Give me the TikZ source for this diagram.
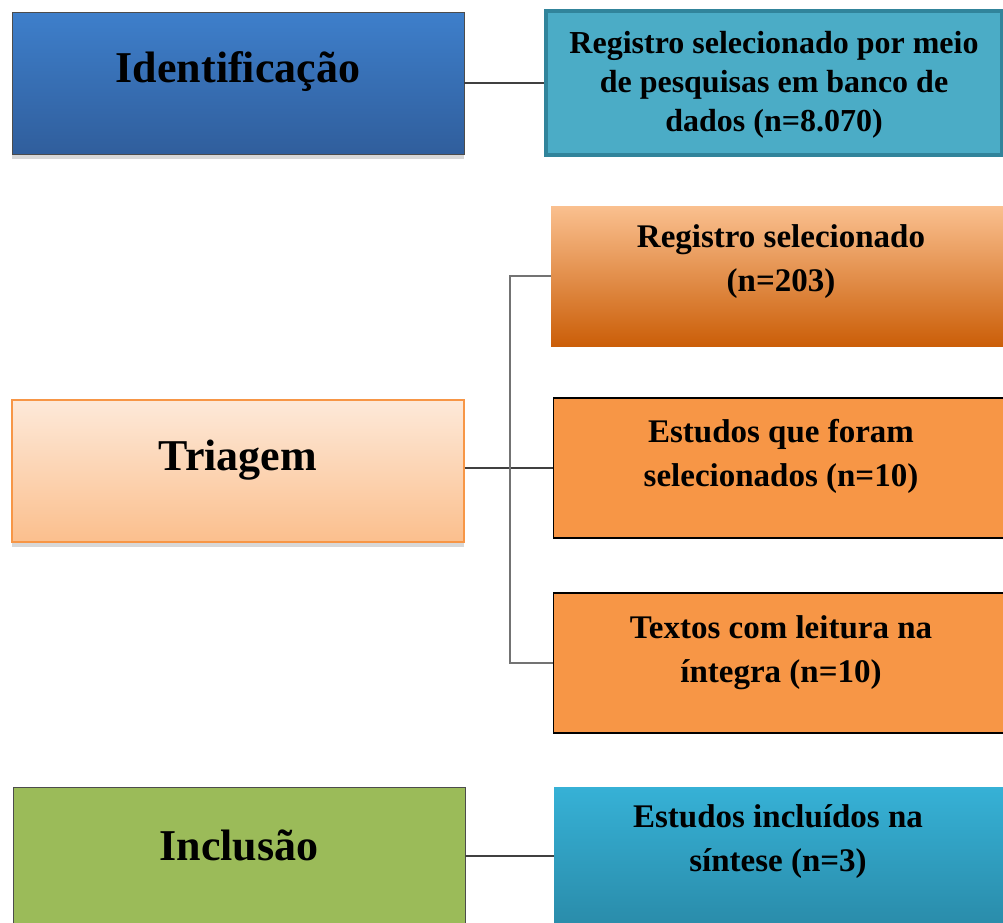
\documentclass[tikz,border=0pt]{standalone}
\usepackage{fontspec}
\setmainfont{Liberation Serif}
\usepackage{tikz}
\usetikzlibrary{positioning,shadows}

\definecolor{azulTopo}{HTML}{3E7FCB}
\definecolor{azulBase}{HTML}{305E9C}
\definecolor{cianoFundo}{HTML}{4BACC6}
\definecolor{cianoBorda}{HTML}{31849B}
\definecolor{pessegoTopo}{HTML}{FDE9D9}
\definecolor{pessegoBase}{HTML}{FBBF8D}
\definecolor{laranja}{HTML}{F79646}
\definecolor{laranjaTopo}{HTML}{FAC08F}
\definecolor{laranjaBase}{HTML}{CB5E08}
\definecolor{verde}{HTML}{9BBB59}
\definecolor{azulClaroTopo}{HTML}{36B1D6}
\definecolor{azulClaroBase}{HTML}{2886A3}

\begin{document}
\begin{tikzpicture}[x=1pt,y=-1pt,
    etapa/.style={rectangle, minimum width=452pt, minimum height=142pt, inner sep=0pt},
    caixa/.style={rectangle, minimum width=455pt, minimum height=140pt, inner sep=0pt},
    titulo/.style={font=\fontsize{44}{50}\selectfont\bfseries},
    texto/.style={font=\fontsize{33}{44}\selectfont\bfseries, align=center},
    ligacao/.style={draw=black!75, line width=1.5pt}]
    \clip (0,0) rectangle (1003,922);
    \fill[white] (0,0) rectangle (1003,922);

    % Identificacao
    \node[etapa, top color=azulTopo, bottom color=azulBase, draw=black!70, line width=0.8pt,
          drop shadow={opacity=0.3, shadow xshift=0pt, shadow yshift=-5pt}] (ident) at (238,83) {};
    \node[titulo] (identTxt) at ([yshift=11pt]ident.center) {Identificação};
    \node[caixa, minimum width=456pt, minimum height=144pt, fill=cianoFundo, draw=cianoBorda, line width=3.5pt] (registro) at (774,83) {};
    \node[texto, font=\fontsize{32}{39}\selectfont\bfseries] (registroTxt) at ([yshift=-2pt]registro.center) {Registro selecionado por meio\\de pesquisas em banco de\\dados (n=8.070)};
    \draw[ligacao] (ident.east) -- (registro.west);

    % Triagem
    \node[etapa, top color=pessegoTopo, bottom color=pessegoBase, draw=laranja, line width=1.2pt,
          drop shadow={opacity=0.3, shadow xshift=0pt, shadow yshift=-5pt}] (triagem) at (238,471) {};
    \node[titulo] (triagemTxt) at ([yshift=11pt]triagem.center) {Triagem};
    \node[caixa, minimum width=460pt, top color=laranjaTopo, bottom color=laranjaBase] (selec) at (781,276) {};
    \node[texto] (selecTxt) at ([yshift=14pt]selec.center) {Registro selecionado\\(n=203)};
    \node[caixa, fill=laranja, draw=black, line width=1.5pt] (estudos) at (781,468) {};
    \node[texto] (estudosTxt) at ([yshift=12pt]estudos.center) {Estudos que foram\\selecionados (n=10)};
    \node[caixa, fill=laranja, draw=black, line width=1.5pt] (textos) at (781,663) {};
    \node[texto] (textosTxt) at ([yshift=10pt]textos.center) {Textos com leitura na\\íntegra (n=10)};
    \coordinate (tronco) at (510,468);
    \draw[ligacao] (triagem.east |- estudos.west) -- (estudos.west);
    \draw[ligacao, draw=black!55, line width=2pt] (selec.west) -| (tronco) |- (textos.west);

    % Inclusao
    \node[etapa, minimum height=160pt, fill=verde, draw=black!70, line width=0.8pt] (inclusao) at (239,867) {};
    \node[titulo] (inclusaoTxt) at (239,845) {Inclusão};
    \node[caixa, minimum width=460pt, minimum height=160pt, top color=azulClaroTopo, bottom color=azulClaroBase] (incluidos) at (784,867) {};
    \node[texto] (incluidosTxt) at (778,842) {Estudos incluídos na\\síntese (n=3)};
    \draw[ligacao] (inclusao.east |- 0,856) -- (incluidos.west |- 0,856);
\end{tikzpicture}
\end{document}
